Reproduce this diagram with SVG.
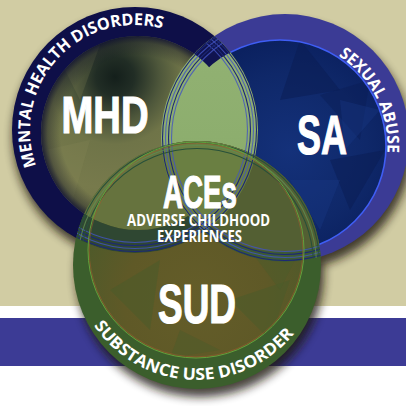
<svg xmlns="http://www.w3.org/2000/svg" width="406" height="406" viewBox="0 0 406 406">
<defs>
<style>
.big{font-family:"Liberation Sans",Arial,sans-serif;font-weight:700;fill:#fff;stroke:#fff;stroke-width:1.2px}
.ring{font-family:"Open Sans","Noto Sans",sans-serif;font-weight:700;fill:#fff;font-size:16.5px}
.sub{font-family:"Open Sans","Noto Sans",sans-serif;font-weight:700;fill:#fff;font-size:15.5px}
.st{fill:none;stroke-width:1.1}
.sd{stroke:#1c2876}
.sl{stroke:#4254c0;opacity:.8}
.gd{stroke:#27503a}
.gl{stroke:#5f8c52;opacity:.8}
</style>
<filter id="blur" filterUnits="userSpaceOnUse" x="-20" y="-20" width="446" height="446"><feGaussianBlur stdDeviation="5"/></filter>
<clipPath id="cMo"><circle cx="135" cy="130" r="123"/></clipPath>
<clipPath id="cMi"><circle cx="138" cy="133" r="97"/></clipPath>
<clipPath id="cSo"><circle cx="285" cy="138" r="124"/></clipPath>
<clipPath id="cSi"><circle cx="280" cy="146" r="106"/></clipPath>
<clipPath id="cGo"><circle cx="197" cy="265" r="124"/></clipPath>
<clipPath id="cGi"><circle cx="196" cy="250" r="108"/></clipPath>
<clipPath id="cMring"><path clip-rule="evenodd" d="M12,130a123,123 0 1,0 246,0a123,123 0 1,0 -246,0ZM41,133a97,97 0 1,0 194,0a97,97 0 1,0 -194,0Z"/></clipPath>
<clipPath id="cSring"><path clip-rule="evenodd" d="M161,138a124,124 0 1,0 248,0a124,124 0 1,0 -248,0ZM174,146a106,106 0 1,0 212,0a106,106 0 1,0 -212,0Z"/></clipPath>
<clipPath id="cSG"><circle cx="285" cy="138" r="124"/><circle cx="197" cy="265" r="124"/></clipPath>
<clipPath id="cMG"><circle cx="135" cy="130" r="123"/><circle cx="197" cy="265" r="124"/></clipPath>
<clipPath id="cMS"><circle cx="135" cy="130" r="123"/><circle cx="285" cy="138" r="124"/></clipPath>
<radialGradient id="gM" gradientUnits="userSpaceOnUse" cx="115" cy="77" r="160">
<stop offset="0" stop-color="#141f1b"/>
<stop offset="0.12" stop-color="#212d25"/>
<stop offset="0.28" stop-color="#4e573b"/>
<stop offset="0.42" stop-color="#6f7448"/>
<stop offset="0.7" stop-color="#777a4c"/>
<stop offset="1" stop-color="#6e7046"/>
</radialGradient>
<radialGradient id="gMe" gradientUnits="userSpaceOnUse" cx="138" cy="133" r="97">
<stop offset="0.8" stop-color="#0c0f24" stop-opacity="0"/>
<stop offset="0.93" stop-color="#0c0f24" stop-opacity="0.35"/>
<stop offset="1" stop-color="#0a0c30" stop-opacity="0.8"/>
</radialGradient>
<radialGradient id="gS" gradientUnits="userSpaceOnUse" cx="290" cy="150" r="110">
<stop offset="0" stop-color="#14317a"/>
<stop offset="0.7" stop-color="#0f2869"/>
<stop offset="1" stop-color="#0b2160"/>
</radialGradient>
<linearGradient id="gL" gradientUnits="userSpaceOnUse" x1="0" y1="14" x2="0" y2="260">
<stop offset="0" stop-color="#93b274"/>
<stop offset="0.5" stop-color="#8dae6e"/>
<stop offset="1" stop-color="#7e9e60"/>
</linearGradient>
<radialGradient id="gU" gradientUnits="userSpaceOnUse" cx="196" cy="300" r="120">
<stop offset="0" stop-color="#645d29"/>
<stop offset="0.6" stop-color="#5f5927"/>
<stop offset="1" stop-color="#4f5a2a"/>
</radialGradient>
<path id="pM" d="M36.33,165.91A105,105 0 0,1 162.18,28.58"/>
<path id="pS" d="M338.54,55.84A107.5,107.5 0 0,1 387.29,152.75"/>
<path id="pG" d="M93.86,325.62A125,125 0 0,0 294,333.84"/>
</defs>

<rect x="0" y="0" width="406" height="406" fill="#fff"/>
<rect x="0" y="0" width="406" height="306" fill="#d1cca3"/>
<rect x="0" y="318" width="406" height="48" fill="#3c3b95"/>

<g id="shadows" filter="url(#blur)" fill="#1b1510" opacity="0.8">
<circle cx="136" cy="137" r="123"/>
<circle cx="288" cy="146" r="124"/>
<circle cx="200" cy="273" r="124"/>
</g>

<g id="node-sa">
<circle cx="285" cy="138" r="124" fill="#3b3b95"/>
<circle cx="280" cy="146" r="106" fill="url(#gS)"/>
<g clip-path="url(#cSi)">
<polygon points="300,40 340,90 280,100" fill="#0a1c52" opacity="0.5"/>
<polygon points="330,160 385,150 350,210" fill="#0a1c52" opacity="0.5"/>
<polygon points="250,170 300,200 260,240" fill="#0a1c52" opacity="0.5"/>
<polygon points="320,95 370,80 360,140" fill="#0a1c52" opacity="0.4"/>
<polygon points="340,100 380,110 345,150" fill="#1b3a86" opacity="0.35"/>
<polygon points="290,180 340,180 320,230" fill="#1b3a86" opacity="0.35"/>
</g>
<circle cx="280" cy="146" r="106" fill="none" stroke="#3f5ef5" stroke-width="1.6"/>
<text class="big" x="297" y="154" font-size="56" textLength="50" lengthAdjust="spacingAndGlyphs">SA</text>
<text class="ring"><textPath href="#pS" startOffset="0" textLength="59" lengthAdjust="spacingAndGlyphs">SEXUAL</textPath></text>
<text class="ring"><textPath href="#pS" startOffset="63" textLength="50.7" lengthAdjust="spacingAndGlyphs">ABUSE</textPath></text>
</g>

<g id="node-mhd">
<circle cx="135" cy="130" r="123" fill="#0e0f48"/>
<circle cx="138" cy="133" r="97" fill="url(#gM)"/>
<g clip-path="url(#cMi)">
<polygon points="45,150 90,140 70,210" fill="#8a8c5c" opacity="0.2"/>
<polygon points="60,60 100,45 80,100" fill="#8a8c5c" opacity="0.2"/>
<polygon points="150,150 200,180 140,220" fill="#8a8c5c" opacity="0.15"/>
</g>
<circle cx="138" cy="133" r="97" fill="url(#gMe)"/>
<text class="big" x="61.5" y="133" font-size="52" textLength="87" lengthAdjust="spacingAndGlyphs">MHD</text>
<text class="ring"><textPath href="#pM" startOffset="0" textLength="66.5" lengthAdjust="spacingAndGlyphs">MENTAL</textPath></text>
<text class="ring"><textPath href="#pM" startOffset="70.7" textLength="63.3" lengthAdjust="spacingAndGlyphs">HEALTH</textPath></text>
<text class="ring"><textPath href="#pM" startOffset="138.1" textLength="90.9" lengthAdjust="spacingAndGlyphs">DISORDERS</textPath></text>
</g>

<g id="overlap-mhd-sa" clip-path="url(#cMo)">
<g clip-path="url(#cSo)">
<rect x="150" y="10" width="120" height="250" fill="url(#gL)"/>
<g clip-path="url(#cMring)"><g clip-path="url(#cSring)"><rect x="150" y="10" width="120" height="250" fill="#101450"/></g></g>
</g>
</g>

<g id="node-aces">
<circle cx="197" cy="265" r="124" fill="#3b5e2c"/>
<circle cx="196" cy="250" r="108" fill="url(#gU)"/>
<g clip-path="url(#cGi)">
<polygon points="110,290 160,260 150,330" fill="#4b5b2a" opacity="0.55"/>
<polygon points="230,300 290,280 270,340" fill="#4b5b2a" opacity="0.55"/>
<polygon points="180,330 220,350 170,358" fill="#4b5b2a" opacity="0.5"/>
<polygon points="250,250 300,250 280,290" fill="#4b5b2a" opacity="0.5"/>
</g>
<g clip-path="url(#cGo)">
<circle cx="138" cy="133" r="97" fill="#66733e"/>
<g clip-path="url(#cMring)"><circle cx="135" cy="130" r="123" fill="#2f4732"/></g>
<circle cx="280" cy="146" r="106" fill="#535f33"/>
<g clip-path="url(#cSring)"><circle cx="285" cy="138" r="124" fill="#3d5a34"/></g>
<g clip-path="url(#cMo)"><circle cx="285" cy="138" r="124" fill="#6a7f42"/></g>
</g>
<g clip-path="url(#cSG)">
<circle class="st sd" cx="135" cy="130" r="121.5"/>
<circle class="st sl" cx="135" cy="130" r="118.5"/>
<circle class="st sd" cx="135" cy="130" r="115.5"/>
<circle class="st sl" cx="135" cy="130" r="112.5"/>
</g>
<g clip-path="url(#cMG)">
<circle class="st sd" cx="285" cy="138" r="122.5"/>
<circle class="st sl" cx="285" cy="138" r="119.5"/>
<circle class="st sd" cx="285" cy="138" r="116.5"/>
<circle class="st sl" cx="285" cy="138" r="113.5"/>
</g>
<g clip-path="url(#cMS)">
<circle class="st gd" cx="197" cy="265" r="122.5"/>
<circle class="st gl" cx="197" cy="265" r="119.5"/>
<circle class="st gd" cx="197" cy="265" r="116.5"/>
</g>
<circle cx="196" cy="250" r="108" fill="none" stroke="#62a23c" stroke-width="1"/>
<circle cx="196" cy="250" r="106.8" fill="none" stroke="#9c5b2e" stroke-width="0.7" opacity="0.8"/>
<text class="big" x="163" y="208" font-size="47" textLength="74" lengthAdjust="spacingAndGlyphs">ACEs</text>
<text class="sub" x="127" y="226" textLength="143" lengthAdjust="spacingAndGlyphs">ADVERSE CHILDHOOD</text>
<text class="sub" x="157" y="241.5" textLength="85" lengthAdjust="spacingAndGlyphs">EXPERIENCES</text>
<text class="big" x="158" y="323" font-size="55" textLength="78" lengthAdjust="spacingAndGlyphs">SUD</text>
<text class="ring" font-size="17"><textPath href="#pG" startOffset="0" textLength="102" lengthAdjust="spacingAndGlyphs">SUBSTANCE</textPath></text>
<text class="ring" font-size="17"><textPath href="#pG" startOffset="106.5" textLength="32.8" lengthAdjust="spacingAndGlyphs">USE</textPath></text>
<text class="ring" font-size="17"><textPath href="#pG" startOffset="143.8" textLength="88.5" lengthAdjust="spacingAndGlyphs">DISORDER</textPath></text>
</g>

<g id="connectors"/>
</svg>
